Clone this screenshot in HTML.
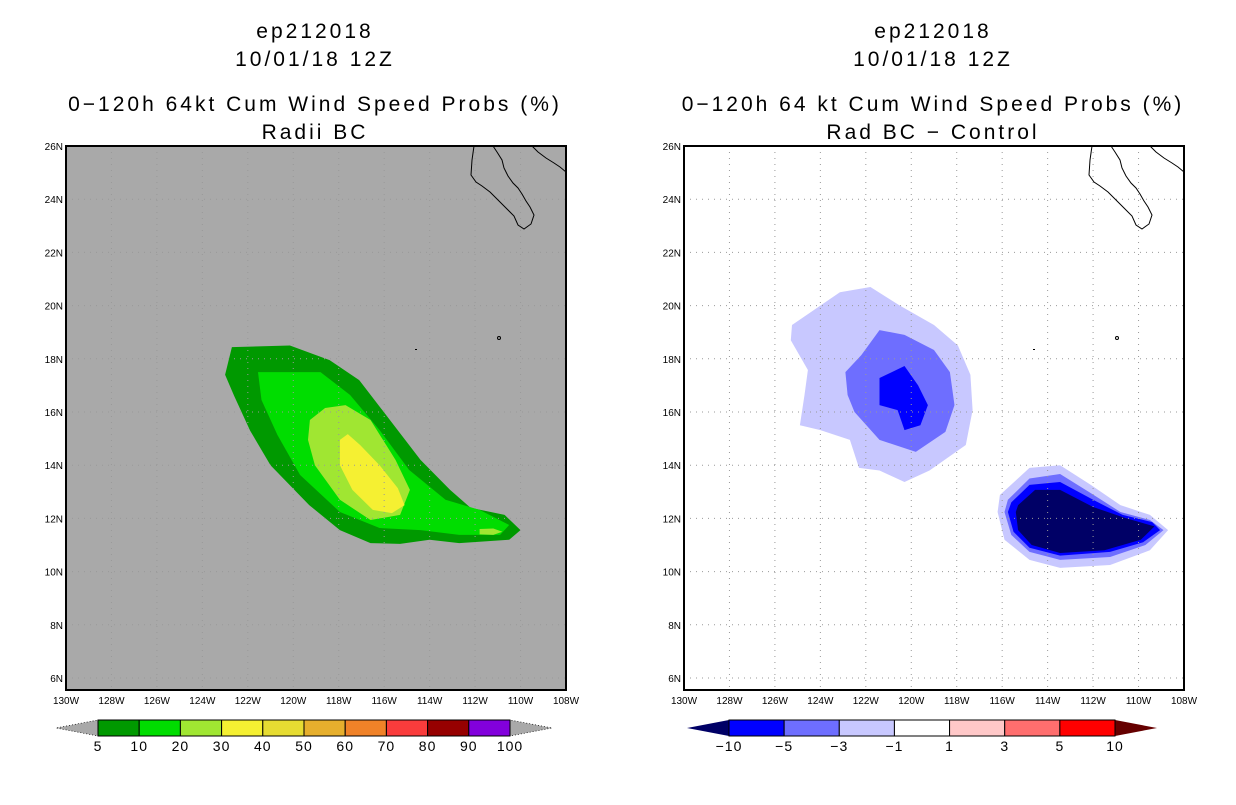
<!DOCTYPE html>
<html><head><meta charset="utf-8">
<style>
body{margin:0;background:#fff;width:1236px;height:800px;overflow:hidden;font-family:"Liberation Sans",sans-serif}
svg text{font-family:"Liberation Sans",sans-serif}
</style></head>
<body>
<svg id="c" width="1236" height="800" xmlns="http://www.w3.org/2000/svg"></svg>
<script>
// Data: contour polygons as [lonW, latN]
const probLevels=[5,10,20,30,40,50,60,70,80,90,100];
const probColors=["#009900","#00dd00","#a0e632","#f5f032","#e6dc32","#e6af2d","#f08228","#fa3c3c","#960000","#8200dc"];
const prob5=[[122.7,18.44],[120.15,18.5],[118.4,17.95],[117.1,17.2],[115.75,15.7],[114.4,14.2],[113.1,13.07],[112.2,12.4],[110.7,12.13],[110.0,11.56],[110.5,11.2],[112.7,11.07],[114.0,11.2],[115.3,11.04],[116.6,11.07],[117.95,11.56],[119.3,12.5],[121.0,14.0],[121.9,15.3],[122.6,16.6],[123.0,17.4]];
const prob10=[[121.55,17.5],[118.8,17.5],[117.5,16.64],[116.2,15.32],[114.9,13.82],[113.3,12.7],[111.8,12.32],[110.5,11.75],[110.9,11.38],[112.7,11.38],[114.4,11.56],[116.2,11.64],[117.95,12.24],[119.7,13.63],[120.7,15.14],[121.4,16.45]];
const prob20=[[119.27,15.7],[118.6,16.15],[117.7,16.26],[116.6,15.7],[115.5,14.2],[114.87,13.07],[115.3,12.13],[116.6,11.94],[117.95,12.7],[119.05,14.0],[119.35,14.95]];
const prob30=[[117.95,14.95],[117.6,15.17],[117.06,14.76],[116.2,14.0],[115.4,13.14],[115.1,12.5],[115.66,12.2],[116.5,12.32],[117.4,13.07],[117.95,14.0]];
const prob20b=[[111.8,11.6],[111.2,11.62],[110.8,11.5],[111.2,11.38],[111.8,11.4]];
const diffLevels=["\u221210","\u22125","\u22123","\u22121","1","3","5","10"];
const diffColors=["#0000ff","#6e6eff","#c8c8ff","#ffffff","#ffc8c8","#ff6e6e","#ff0000"];
const diffA1=[[125.25,19.27],[123.14,20.5],[121.8,20.7],[120.5,20.0],[119.0,19.27],[117.95,18.5],[117.4,17.4],[117.3,16.07],[117.6,14.76],[119.2,13.8],[120.3,13.37],[121.4,13.8],[122.3,13.9],[122.7,14.95],[124.0,15.32],[124.9,15.5],[124.7,16.64],[124.55,17.58],[125.3,18.7]];
const diffA3=[[122.9,17.5],[122.2,18.14],[121.4,19.08],[120.3,18.9],[119.0,18.33],[118.3,17.5],[118.1,16.26],[118.5,15.25],[119.8,14.5],[121.4,14.95],[122.5,16.0],[122.8,16.64]];
const diffA5=[[121.4,17.28],[120.3,17.73],[119.7,17.0],[119.27,16.26],[119.6,15.5],[120.3,15.32],[120.6,16.07],[121.4,16.26]];
const diffB1=[[116.1,12.88],[114.8,13.9],[113.45,14.0],[112.1,13.26],[110.8,12.5],[109.5,12.13],[108.7,11.56],[109.5,10.8],[111.25,10.25],[113.45,10.14],[114.8,10.44],[115.9,11.2],[116.2,12.24]];
const diffB3=[[115.75,12.7],[114.8,13.5],[113.45,13.67],[112.1,12.95],[110.8,12.24],[109.5,11.94],[108.9,11.56],[109.7,11.0],[111.25,10.55],[113.45,10.44],[114.8,10.74],[115.6,11.38],[115.9,12.24]];
const diffB5=[[115.6,12.6],[114.8,13.26],[113.45,13.37],[112.0,12.7],[110.7,12.13],[109.4,11.86],[109.05,11.56],[109.8,11.1],[111.25,10.74],[113.45,10.6],[114.8,10.9],[115.5,11.5],[115.75,12.24]];
const diffB10=[[115.3,12.5],[114.55,13.07],[113.45,13.07],[112.0,12.43],[110.6,12.02],[109.3,11.7],[109.9,11.2],[111.5,10.8],[113.45,10.7],[114.7,11.0],[115.3,11.56],[115.4,12.24]];
const lonTicks=[130,128,126,124,122,120,118,116,114,112,110,108];
const latTicks=[6,8,10,12,14,16,18,20,22,24,26];

const NS="http://www.w3.org/2000/svg";
const svg=document.getElementById('c');
function mk(tag,attrs,parent){const e=document.createElementNS(NS,tag);for(const k in attrs)e.setAttribute(k,attrs[k]);(parent||svg).appendChild(e);return e;}
const T=146,B=690,W=500;
function xs(x0){return lon=>x0+(130-lon)/22*W;}
function ys(lat){return T+(26-lat)*26.6;}
function poly(pts,x,fill,g){return mk('polygon',{points:pts.map(p=>x(p[0]).toFixed(1)+','+ys(p[1]).toFixed(1)).join(' '),fill:fill},g);}
const coast=[[474,146],[472,160],[471,175],[476,182],[482,186],[490,192],[498,200],[506,208],[514,216],[518,225],[524,229],[531,224],[534,215],[530,207],[526,201],[522,194],[518,188],[513,183],[508,176],[504,168],[502,160],[497,152],[493,146]];
const coast2=[[532,146],[538,152],[546,158],[554,163],[560,167],[566,172]];

function panel(x0,bg,name,layers,titleLines){
  const x=xs(x0);
  const g=mk('g',{});
  
  
  titleLines.forEach((t,i)=>{const e=mk('text',{x:x0+W/2-1,y:[38,66,111,139][i],'text-anchor':'middle','font-size':21,'letter-spacing':'3px'},g);e.textContent=t;
    });
  const bgR=mk('rect',{x:x0,y:T,width:W,height:B-T,fill:bg},g);
  
  layers.forEach(l=>{const p=poly(l[0],x,l[1],g);});
  lonTicks.forEach(l=>{mk('line',{x1:x(l),x2:x(l),y1:T,y2:B,stroke:'#999','stroke-width':1,'stroke-dasharray':'1,5'},g);});
  latTicks.forEach(l=>{mk('line',{x1:x0,x2:x0+W,y1:ys(l),y2:ys(l),stroke:'#999','stroke-width':1,'stroke-dasharray':'1,5'},g);});
  const off=x0-66;
  const c1=mk('polyline',{points:coast.map(p=>(p[0]+off)+','+p[1]).join(' '),fill:'none',stroke:'#000','stroke-width':1},g);
  
  mk('polyline',{points:coast2.map(p=>(p[0]+off)+','+p[1]).join(' '),fill:'none',stroke:'#000','stroke-width':1},g);
  mk('circle',{cx:499+off,cy:338,r:1.5,fill:'none',stroke:'#000'},g);
  mk('rect',{x:415+off,y:349,width:2,height:1,fill:'#000'},g);
  const fr=mk('rect',{x:x0,y:T,width:W,height:B-T,fill:'none',stroke:'#000','stroke-width':2},g);
  
  lonTicks.forEach(l=>{const t=mk('text',{x:x(l),y:704,'text-anchor':'middle','font-size':10},g);t.textContent=l+'W';
    });
  latTicks.forEach(l=>{const t=mk('text',{x:x0-3,y:ys(l)+4,'text-anchor':'end','font-size':10},g);t.textContent=l+'N';
    });
}
panel(66,'#a9a9a9','left-map',[[prob5,probColors[0],'5'],[prob10,probColors[1],'10'],[prob20,probColors[2],'20'],[prob30,probColors[3],'30'],[prob20b,probColors[2],'20b']],
  ['ep212018','10/01/18 12Z','0\u2212120h 64kt Cum Wind Speed Probs (%)','Radii BC']);
panel(684,'#ffffff','right-map',[[diffA1,diffColors[2],'m1'],[diffA3,diffColors[1],'m3'],[diffA5,diffColors[0],'m5'],[diffB1,diffColors[2],'m1b'],[diffB3,diffColors[1],'m3b'],[diffB5,diffColors[0],'m5b'],[diffB10,'#000066','m10']],
  ['ep212018','10/01/18 12Z','0\u2212120h 64 kt Cum Wind Speed Probs (%)','Rad BC \u2212 Control']);

function cbar(x0,x1,colors,labels,lc,rc,name,dash){
  const g=mk('g',{});
  
  const y0=720,y1=736,n=colors.length,w=(x1-x0)/n;
  mk('polygon',{points:`${x0},${y0} ${x0},${y1} ${x0-42},${(y0+y1)/2}`,fill:lc,stroke:dash?'#000':'none','stroke-dasharray':dash?'1,2':'none','stroke-width':0.7},g);
  mk('polygon',{points:`${x1},${y0} ${x1},${y1} ${x1+42},${(y0+y1)/2}`,fill:rc,stroke:dash?'#000':'none','stroke-dasharray':dash?'1,2':'none','stroke-width':0.7},g);
  colors.forEach((c,i)=>{const r=mk('rect',{x:x0+i*w,y:y0,width:w,height:y1-y0,fill:c,stroke:'#000','stroke-width':1},g);
    });
  labels.forEach((l,i)=>{const t=mk('text',{x:x0+i*w,y:y1+15,'text-anchor':'middle','font-size':14,'letter-spacing':'1px'},g);t.textContent=l;
    });
}
cbar(98,510,probColors,probLevels,'#a9a9a9','#a9a9a9','left-colorbar',true);
cbar(729,1115,diffColors,diffLevels,'#000066','#660000','right-colorbar',false);
</script>
</body></html>
